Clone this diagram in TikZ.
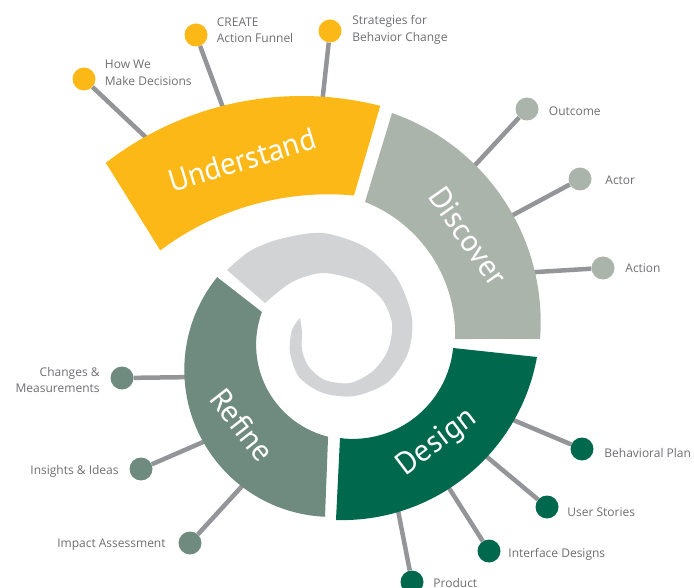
\documentclass[tikz,border=0pt]{standalone}
\usepackage{fontspec}
\setmainfont{PT Sans}
\newfontfamily\labelfont{Open Sans}
\usetikzlibrary{positioning}

\definecolor{understandc}{HTML}{FBB817}
\definecolor{discoverc}{HTML}{AAB4AB}
\definecolor{designc}{HTML}{00694D}
\definecolor{refinec}{HTML}{6F8B7F}
\definecolor{swirlc}{HTML}{D1D3D4}
\definecolor{spokec}{HTML}{939598}
\definecolor{labelc}{HTML}{6D6E71}

\begin{document}
\begin{tikzpicture}[x=1pt, y=-1pt,
    bead/.style={circle, fill=#1, minimum size=23pt, inner sep=0pt},
    spoke/.style={draw=spokec, line width=4.5pt},
    lbl/.style={text=labelc, font=\labelfont\fontsize{12}{16.5}\selectfont, inner sep=0pt},
    phase/.style={text=white, font=\fontsize{31}{31}\selectfont, inner sep=0pt}]
    \useasboundingbox (0,0) rectangle (694,588);

    % understand
    \node[bead=understandc] (how) at (84,79) {};
    \node[bead=understandc] (create) at (196,35) {};
    \node[bead=understandc] (strat) at (330,31) {};
    \node[lbl, align=left, right=9pt of how, yshift=6pt] (howtxt) {How We\\Make Decisions};
    \node[lbl, align=left, right=9pt of create, yshift=5pt] (createtxt) {CREATE\\Action Funnel};
    \node[lbl, align=left, right=10.5pt of strat, yshift=1pt] (strattxt) {Strategies for\\Behavior Change};
    \coordinate (how-e) at (154,145);
    \coordinate (create-e) at (228,121);
    \coordinate (strat-e) at (321,113);

    % discover
    \node[bead=discoverc] (outc) at (527,109) {};
    \node[bead=discoverc] (actor) at (580,179) {};
    \node[bead=discoverc] (action) at (603,268) {};
    \node[lbl, right=10pt of outc, yshift=-2pt] (outctxt) {Outcome};
    \node[lbl, right=13.5pt of actor, yshift=-1pt] (actortxt) {Actor};
    \node[lbl, right=10.5pt of action] (actiontxt) {Action};
    \coordinate (outc-e) at (465,176);
    \coordinate (actor-e) at (500,222);
    \coordinate (action-e) at (520,273);

    % design
    \node[bead=designc] (plan) at (582,449) {};
    \node[bead=designc] (story) at (547,507) {};
    \node[bead=designc] (iface) at (489,551) {};
    \node[bead=designc] (prod) at (412,582) {};
    \node[lbl, right=10.5pt of plan, yshift=-4pt] (plantxt) {Behavioral Plan};
    \node[lbl, right=8.5pt of story, yshift=-5pt] (storytxt) {User Stories};
    \node[lbl, right=7.5pt of iface, yshift=-3pt] (ifacetxt) {Interface Designs};
    \node[lbl, right=9.5pt of prod, yshift=-1pt] (prodtxt) {Product};
    \coordinate (plan-e) at (499,414);
    \coordinate (story-e) at (475,447);
    \coordinate (iface-e) at (442,477);
    \coordinate (prod-e) at (395,495);

    % refine
    \node[bead=refinec] (chg) at (122,378) {};
    \node[bead=refinec] (ins) at (141,469) {};
    \node[bead=refinec] (imp) at (190,543) {};
    \node[lbl, align=right, left=10.5pt of chg, yshift=-2pt] (chgtxt) {Changes \&\\Measurements};
    \node[lbl, left=10.5pt of ins, yshift=-2pt] (instxt) {Insights \& Ideas};
    \node[lbl, left=12.5pt of imp, yshift=-2pt] (imptxt) {Impact Assessment};
    \coordinate (chg-e) at (198,377);
    \coordinate (ins-e) at (217,436);
    \coordinate (imp-e) at (255,472);

    \foreach \s in {how, create, strat, outc, actor, action, plan, story, iface, prod, chg, ins, imp}
        \draw[spoke] (\s) -- (\s-e);

    % spiral bands
    \coordinate (Uo) at (301.5,416);
    \coordinate (Ui) at (328.4,474.3);
    \coordinate (Do) at (319.1,322.3);
    \coordinate (Di) at (313.1,334.1);
    \coordinate (Eo) at (342,322);
    \coordinate (Ei) at (352.8,338.1);
    \coordinate (Ro) at (331.4,369.8);
    \coordinate (Ri) at (350.9,344.7);

    \fill[understandc] ([shift={(Uo)}]-127.7:320) arc[start angle=-127.7, end angle=-75.75, radius=320]
        -- ([shift={(Ui)}]-84.76:280) arc[start angle=-84.76, end angle=-126.9, radius=280] -- cycle;
    \fill[discoverc] ([shift={(Do)}]-70.79:221.6) arc[start angle=-70.79, end angle=4.32, radius=221.6]
        -- ([shift={(Di)}]1.98:142) arc[start angle=1.98, end angle=-68.55, radius=142] -- cycle;
    \fill[designc] ([shift={(Eo)}]10.18:198.1) arc[start angle=10.18, end angle=91.74, radius=198.1]
        -- ([shift={(Ei)}]97.3:100.8) arc[start angle=97.3, end angle=5.64, radius=100.8] -- cycle;
    \fill[refinec] ([shift={(Ro)}]92.49:147.1) arc[start angle=92.49, end angle=219.05, radius=147.1]
        -- ([shift={(Ri)}]200.19:94.8) arc[start angle=200.19, end angle=103.93, radius=94.8] -- cycle;

    % inner swirl
    \fill[swirlc] plot[smooth] coordinates {(227,270) (250,251) (280,239) (323,233) (367,248) (397,278)
            (412,318) (408,353) (388,382) (355,396) (323,393) (299,377) (290,352) (292,330) (300,318)}
        -- plot[smooth] coordinates {(300,318) (302,332) (302,350) (309,367) (325,380) (350,383) (373,371)
            (388,350) (392,323) (381,298) (358,281) (323,273) (292,282) (265,303)} -- cycle;

    \node[phase, rotate=17] (undtxt) at (242,160) {Understand};
    \node[phase, rotate=-55] (distxt) at (468,236) {Discover};
    \node[phase, rotate=37] (destxt) at (437,443) {Design};
    \node[phase, rotate=-52] (reftxt) at (242,425) {Refine};
\end{tikzpicture}
\end{document}
